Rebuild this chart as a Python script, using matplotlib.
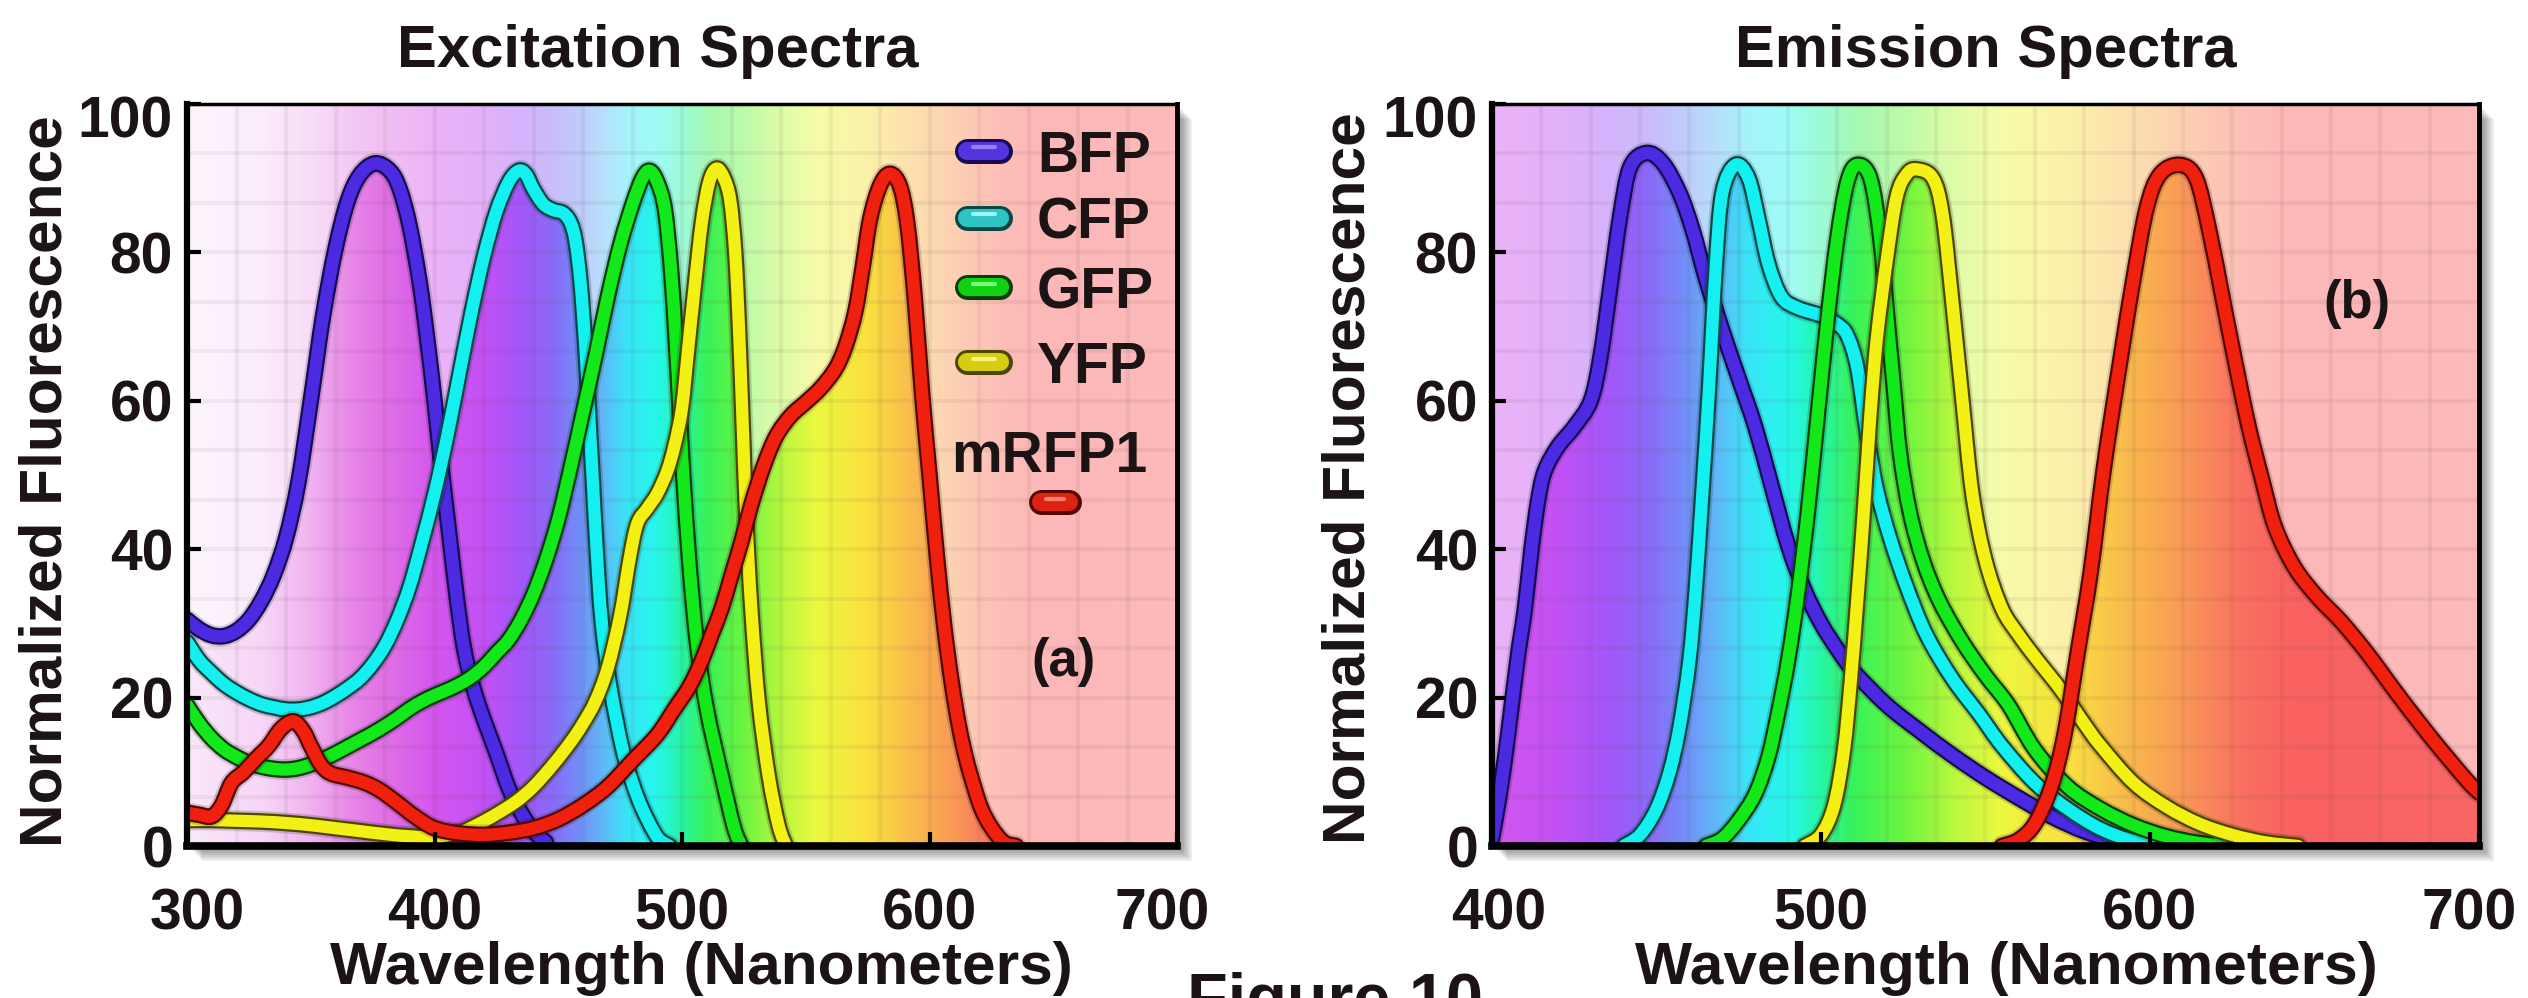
import numpy as np
import matplotlib
matplotlib.use("Agg")
import matplotlib.pyplot as plt
import matplotlib.patheffects as pe
from matplotlib.patches import Rectangle, PathPatch
from matplotlib.path import Path
from matplotlib.transforms import offset_copy

plt.rcParams['font.family'] = ['Liberation Sans', 'DejaVu Sans']
plt.rcParams['font.weight'] = 'bold'

# ---------------- data ----------------
proteins = ['BFP', 'CFP', 'GFP', 'YFP', 'mRFP1']

ex_wl_bfp = [300,305,310,315,320,325,330,335,340,345,350,355,360,365,370,376,382,386,390,394,397,400,403,406,409,412,416,420,425,430,435,440,445]
ex_bfp    = [30.5,29.2,28.4,28.3,29,30.5,33,36.5,41.5,49,60,71.5,80.5,87,90.5,92,91,88.5,83.5,76,68.5,60,50.5,42,33.5,26.5,21,17,12.5,7.8,4.5,2,0.5]

ex_wl_cfp = [300,305,310,315,320,325,330,335,340,345,350,355,360,365,370,375,380,385,390,395,400,405,410,415,420,425,430,434,437,440,444,448,452,455,457,459,461,462.5,464,465.5,467.5,471,476,480,484,490,495]
ex_cfp    = [27.5,25,23.3,21.8,20.7,19.8,19.1,18.7,18.4,18.4,18.7,19.3,20.2,21.3,22.6,24.5,27,30.5,35,41,47.5,55,63.5,72,79.5,85.5,89.5,91,90.5,88.5,86.5,85.7,85.3,84,81.5,76,67,58,49,40,30.5,21.5,13,8.5,5,1.2,0]

ex_wl_gfp = [300,305,310,315,320,325,330,335,340,345,350,355,360,365,370,375,380,385,390,395,400,405,410,415,420,425,430,435,440,445,450,455,460,465,470,475,480,484,487,490,493,495.5,497.5,499,500.5,503,506,510,516,521,524]
ex_gfp    = [19,16.5,14.5,13,12,11.2,10.7,10.4,10.3,10.5,11,11.7,12.5,13.4,14.3,15.2,16.2,17.3,18.5,19.5,20.3,21,21.8,22.8,24.2,26,27.8,30.5,34,38.5,44,51,58.5,66,74,81,86.5,90,91,89.5,86,78,68,59,50,38,27.5,18.5,9.5,2.5,0]

ex_wl_yfp = [300,310,320,330,340,350,360,370,380,390,400,410,418,425,433,440,448,455,460,465,470,475,479,482,486,490,494,497,500,502.5,505,508,511,514,517,519.5,521.5,523,524.5,526,528,531,535,539,542]
ex_yfp    = [3.5,3.5,3.4,3.3,3.1,2.8,2.4,2,1.6,1.3,1.2,1.8,3,4.3,6,8,11,14,16.5,19.5,24,31,39,43.5,45.5,47.5,50.5,54,59,67,75,84,89.5,91.3,90,87,80,70,57,44,32,19.5,9.5,2.8,0]

ex_wl_rfp = [300,305,310,314,318,323,328,333,338,343,347,350,354,358,365,372,378,385,392,400,410,420,430,440,450,460,470,480,490,497,503,508,512,516,520,524,528,533,538,544,550,556,562,566,570,573,576,580,584,588,591,594,597,600,603,606,609,612,615,618,621,625,630,635]
ex_rfp    = [4.5,4.2,4,5.5,8.5,10,11.8,13.5,15.8,16.8,15.5,13.5,11,9.8,9.2,8.5,7.5,5.8,4,2.4,1.7,1.5,1.8,2.4,3.6,5.5,8,11.5,15,18.5,21.5,25,28.5,32,36.5,41,46,51.2,55.2,58,59.8,61.7,64.3,67.3,72,78,84.5,89,90.6,89,84,74,61,50,39,29.5,22,16,11.5,8,5,2.5,0.5,0]

em_wl_bfp = [400,402,404,406,408,410,412,414,416,420,425,430,433,436,439,442,447,452,457,461,465,470,475,480,485,490,495,500,505,510,520,530,540,550,560,570,580,590,600]
em_bfp    = [1,6,12,19,26,32,40,46.5,50.5,53.8,56.5,60,66,75.5,85,91.5,93.4,92,88,83,76.5,69.5,63,56.5,48.5,40.5,34.5,30,26.5,23.5,19,15.5,12.2,9.2,6.5,4,2,0.7,0]

em_wl_cfp = [440,445,450,454,457,460,462,464,466,468,470,474,478,481,484,488,493,500,505,508,511,514,517,521,526,532,540,548,555,565,575,585,595,605]
em_cfp    = [0,1.5,5,10,16,25,35,48,62,78,88,91.8,90,84.5,78.5,74,72.5,71.5,70.3,68.8,64.5,55.5,48,41.5,35,28.5,22.5,17.8,13.5,8.5,5,2.3,0.7,0]

em_wl_gfp = [465,470,475,480,484,487,490,493,496,499,502,505,508,511,515,518,520,522,524,527,531,536,543,550,557,565,575,585,595,605,615,625]
em_gfp    = [0,1,3.5,7,12,18,25,34,45,58,71,82,89.5,91.8,90,82,72,62.5,53,45,38.5,33,27.5,23,19,13,8,5,2.8,1.3,0.4,0]

em_wl_yfp = [495,500,504,507,509,511,513,515,517,520,523,526,529,534,537,540,543,546,550,555,560,565,573,580,585,595,605,615,625,635,645]
em_yfp    = [0,1.5,5.5,13,22,33,45,58,68.5,79,87.5,90.5,91.2,90,85,73,60,47.5,38.5,32,28.5,25.5,21,16.5,13.5,8.5,5.3,3,1.5,0.5,0]

em_wl_rfp = [555,560,565,570,574,578,582,586,591,595,599,603,609,614,618,622,626,630,634,638,644,651,658,666,676,686,696,700]
em_rfp    = [0,0.8,3,8,15,26,37,51,65.5,76.5,86,90.5,91.8,90,83,74,65,56.5,49.5,43,37.5,33.5,30.3,26,20,14.3,9,7.2]

ex_xticks = [300, 400, 500, 600, 700]
em_xticks = [400, 500, 600, 700]
yticks = [0, 20, 40, 60, 80, 100]

# ---------------- style ----------------
line_colors = ['#4b2ae2', '#14f0f0', '#12e81a', '#f2f014', '#f0200f']
dark_colors = ['#160a55', '#064848', '#053f05', '#4c4700', '#560600']
pill_colors = ['#5533dd', '#2fc4c4', '#12d012', '#d6cc10', '#dd2211']
pill_hl = ['#a396f7', '#b8ffff', '#98ff98', '#fffa98', '#ff9a8a']
TXT = '#1c1414'

spec_wl = [300, 330, 350, 365, 380, 400, 420, 435, 448, 458, 468, 478, 490, 500, 510, 525, 540, 555, 575, 592, 610, 628, 645, 700]
spec_rgb = np.array([
    (0.98, 0.91, 0.98), (0.97, 0.84, 0.97), (0.94, 0.70, 0.94), (0.91, 0.54, 0.91),
    (0.88, 0.44, 0.90), (0.83, 0.34, 0.93), (0.76, 0.32, 0.96), (0.64, 0.34, 0.98),
    (0.54, 0.42, 0.97), (0.45, 0.55, 0.97), (0.38, 0.72, 0.97), (0.22, 0.90, 0.97),
    (0.15, 0.97, 0.92), (0.15, 0.96, 0.65), (0.22, 0.95, 0.35), (0.42, 0.96, 0.25),
    (0.72, 0.97, 0.25), (0.93, 0.97, 0.25), (0.98, 0.88, 0.25), (0.98, 0.74, 0.30),
    (0.98, 0.60, 0.34), (0.98, 0.44, 0.38), (0.98, 0.38, 0.38), (0.98, 0.40, 0.40)])

W, H = 2528, 998
fig = plt.figure(figsize=(W / 100, H / 100), dpi=100)
fig.patch.set_facecolor('white')


def spectrum_img(xmin, xmax):
    xs = np.linspace(xmin, xmax, 800)
    cols = np.stack([np.interp(xs, spec_wl, spec_rgb[:, i]) for i in range(3)], axis=-1)
    return np.repeat(cols[None, :, :], 2, axis=0)


def smooth_path(wl, vals, close=False):
    """Bezier path through the read points (Catmull-Rom tangents)."""
    P = np.column_stack([wl, vals]).astype(float)
    n = len(P)
    verts = [P[0]]
    codes = [Path.MOVETO]
    for i in range(n - 1):
        p0 = P[i - 1] if i > 0 else P[i]
        p1, p2 = P[i], P[i + 1]
        p3 = P[i + 2] if i + 2 < n else P[i + 1]
        c1 = p1 + (p2 - p0) / 6.0
        c2 = p2 - (p3 - p1) / 6.0
        verts += [c1, c2, p2]
        codes += [Path.CURVE4] * 3
    if close:
        verts += [(P[-1, 0], 0.0), (P[0, 0], 0.0), (P[0, 0], 0.0)]
        codes += [Path.LINETO, Path.LINETO, Path.CLOSEPOLY]
    return Path(np.array(verts), codes)


def make_panel(rect, xlim, xticks, curves, grid_dx, tick_dx):
    x0, y0, w, h = rect
    for k in range(7):
        off = 3 + 2 * k
        fig.add_artist(Rectangle((x0 + off / W, y0 - off / H), w, h,
                                 transform=fig.transFigure, facecolor='k',
                                 edgecolor='none', alpha=0.07, zorder=-5))
    ax = fig.add_axes(rect)
    sat = spectrum_img(*xlim)
    pale = sat * 0.45 + 0.55
    ax.imshow(pale, extent=[xlim[0], xlim[1], 0, 100], aspect='auto',
              interpolation='bilinear', zorder=0)
    for wl, vals in curves:
        clip = PathPatch(smooth_path(wl, vals, close=True), transform=ax.transData)
        im = ax.imshow(sat, extent=[xlim[0], xlim[1], 0, 100], aspect='auto',
                       interpolation='bilinear', zorder=1)
        im.set_clip_path(clip)
    for gx in np.arange(xlim[0], xlim[1] + 0.1, grid_dx):
        ax.axvline(gx, color=(0.35, 0.25, 0.25), alpha=0.07, lw=3, zorder=1.5)
    for gy in np.arange(0, 100.1, 100 / 15):
        ax.axhline(gy, color=(0.35, 0.25, 0.25), alpha=0.07, lw=3, zorder=1.5)
    for i, (wl, vals) in enumerate(curves):
        patch = PathPatch(smooth_path(wl, vals), fill=False, edgecolor=line_colors[i],
                          lw=8.8, zorder=3 + 0.1 * i, joinstyle='round', capstyle='round',
                          path_effects=[pe.Stroke(linewidth=15, foreground='k', alpha=0.16),
                                        pe.Stroke(linewidth=12, foreground=dark_colors[i]),
                                        pe.Normal()])
        ax.add_patch(patch)
    ax.set_xlim(*xlim)
    ax.set_ylim(0, 100)
    ax.set_xticks(xticks)
    ax.set_yticks(yticks)
    ax.tick_params(direction='in', length=10, width=3, color='k',
                   labelbottom=False, labelleft=False)
    for side, lw in [('bottom', 5.5), ('left', 4.5), ('top', 2.5), ('right', 3.5)]:
        ax.spines[side].set_linewidth(lw)
        ax.spines[side].set_color('k')
        ax.spines[side].set_zorder(10)
    ax.xaxis.set_zorder(10)
    ax.yaxis.set_zorder(10)
    for j, t in enumerate(xticks):
        ax.text(t, 0, str(t), transform=offset_copy(ax.get_xaxis_transform(), fig=fig,
                                                    x=tick_dx[j], y=-30, units='points'),
                ha='center', va='top', fontsize=41, color=TXT, clip_on=False)
    for t in yticks:
        dy = -9 if t == 100 else 0
        ax.text(0, t, str(t), transform=offset_copy(ax.get_yaxis_transform(), fig=fig,
                                                   x=-10, y=dy, units='points'),
                ha='right', va='center_baseline', fontsize=41, color=TXT, clip_on=False)
    return ax


ex_curves = [(ex_wl_bfp, ex_bfp), (ex_wl_cfp, ex_cfp), (ex_wl_gfp, ex_gfp),
             (ex_wl_yfp, ex_yfp), (ex_wl_rfp, ex_rfp)]
em_curves = [(em_wl_bfp, em_bfp), (em_wl_cfp, em_cfp), (em_wl_gfp, em_gfp),
             (em_wl_yfp, em_yfp), (em_wl_rfp, em_rfp)]

axL = make_panel([187 / W, 1 - 846 / H, 990 / W, 742 / H], (300, 700), ex_xticks,
                 ex_curves, 20, [7, 0, 0, 0, -11])
axR = make_panel([1492 / W, 1 - 846 / H, 987 / W, 742 / H], (400, 700), em_xticks,
                 em_curves, 15, [5, 0, 0, -7])

# legend (left panel)
leg_y = [93.7, 84.7, 75.3, 65.2]
for i in range(4):
    y = leg_y[i]
    axL.plot([615.3, 628.3], [y, y], color=pill_colors[i], lw=13, solid_capstyle='round',
             zorder=6, path_effects=[pe.Stroke(linewidth=18, foreground=dark_colors[i]),
                                     pe.Normal()])
    axL.plot([617.5, 626.5], [y + 0.5, y + 0.5], color=pill_hl[i], lw=3,
             solid_capstyle='round', zorder=6.5, alpha=0.8)
    axL.text(643.4, y, proteins[i], ha='left', va='center_baseline', fontsize=41,
             color=TXT, zorder=7)
axL.text(648.3, 53.2, proteins[4], ha='center', va='center_baseline', fontsize=41,
         color=TXT, zorder=7)
axL.plot([644.9, 656.5], [46.3, 46.3], color=pill_colors[4], lw=13, solid_capstyle='round',
         zorder=6, path_effects=[pe.Stroke(linewidth=18, foreground=dark_colors[4]),
                                 pe.Normal()])
axL.plot([647, 654.5], [46.8, 46.8], color=pill_hl[4], lw=3, solid_capstyle='round',
         zorder=6.5, alpha=0.8)

axL.text(654.2, 24.8, '(a)', ha='center', va='center', fontsize=38, color=TXT, zorder=7)
axR.text(662.8, 73.0, '(b)', ha='center', va='center', fontsize=38, color=TXT, zorder=7)

# titles and labels
fig.text(658 / W, 1 - 67 / H, 'Excitation Spectra', ha='center', va='baseline',
         fontsize=43, color=TXT)
fig.text(1986 / W, 1 - 67 / H, 'Emission Spectra', ha='center', va='baseline',
         fontsize=43, color=TXT)
fig.text(701 / W, 1 - 984 / H, 'Wavelength (Nanometers)', ha='center', va='baseline',
         fontsize=43.5, color=TXT)
fig.text(2006 / W, 1 - 984 / H, 'Wavelength (Nanometers)', ha='center', va='baseline',
         fontsize=43.5, color=TXT)
fig.text(46 / W, 1 - 481 / H, 'Normalized Fluorescence', rotation=90, ha='center',
         va='center', fontsize=43.5, color=TXT)
fig.text(1349 / W, 1 - 478 / H, 'Normalized Fluorescence', rotation=90, ha='center',
         va='center', fontsize=43.5, color=TXT)
fig.text(1335 / W, 1 - 972 / H, 'Figure 10', ha='center', va='top', fontsize=48, color=TXT)

fig.savefig('out.png', dpi=100)
